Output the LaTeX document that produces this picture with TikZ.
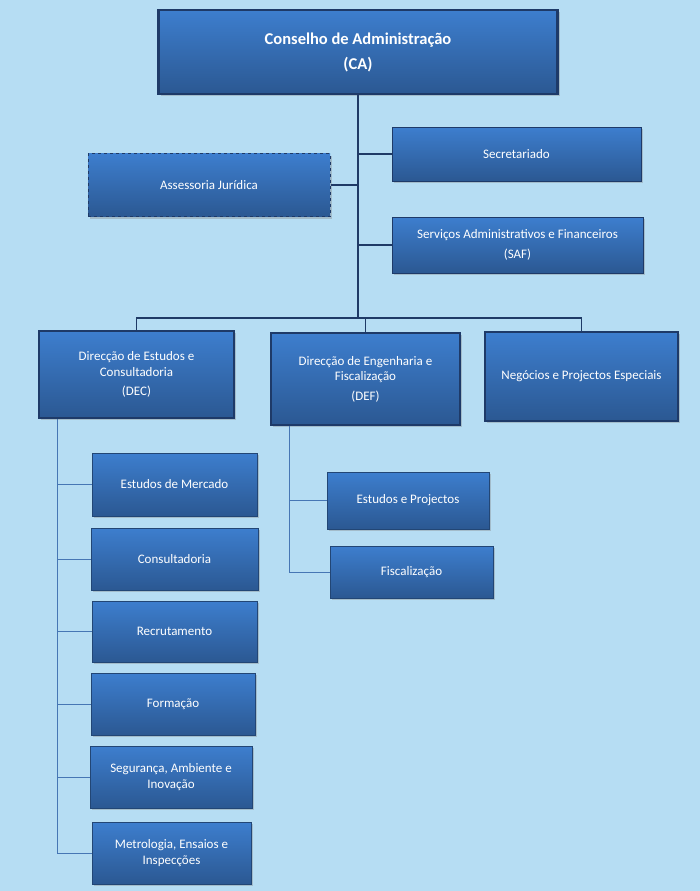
\documentclass[tikz,border=0pt]{standalone}
\usepackage{fontspec}
\setmainfont{Carlito}
\usetikzlibrary{shadows}
\definecolor{sky}{HTML}{B6DDF3}
\definecolor{boxtop}{HTML}{3D7ECE}
\definecolor{boxbot}{HTML}{2B5892}
\definecolor{boxline}{HTML}{1E3A68}
\definecolor{trunk}{HTML}{1F3A66}
\definecolor{twig}{HTML}{4676B4}

\begin{document}
\begin{tikzpicture}[x=1pt, y=-1pt,
  unit/.style={rectangle, top color=boxtop, bottom color=boxbot, text=white,
               align=center, inner sep=2pt, font=\fontsize{13}{15.5}\selectfont,
               drop shadow={shadow xshift=2pt, shadow yshift=-2pt, opacity=.35}},
  head/.style={unit, draw=boxline, line width=2.4pt},
  staff/.style={unit, draw=boxline, line width=1pt},
  sub/.style={unit, draw=boxbot!80!black, line width=.4pt},
  trunkline/.style={trunk, line width=1.6pt},
  twigline/.style={twig, line width=1pt},
]

\fill[sky] (0,0) rectangle (700,891);

% top level
\node[head, minimum width=399pt, minimum height=84pt,
      font=\fontsize{16.5}{20}\selectfont\bfseries] (ca) at (358,52)
  {Conselho de Administração\\[5pt](CA)};
\coordinate (bus) at (358,318);

\node[staff, minimum width=249pt, minimum height=54pt] (sec) at (516.5,154) {Secretariado};
\node[staff, dashed, minimum width=242pt, minimum height=63pt] (jur) at (209,185) {Assessoria Jurídica};
\node[staff, minimum width=251pt, minimum height=56pt] (saf) at (517.5,245)
  {Serviços Administrativos e Financeiros\\[5pt](SAF)};

% directorates
\node[head, minimum width=195pt, minimum height=87pt] (dec) at (136.5,374.5)
  {Direcção de Estudos e\\Consultadoria\\[4pt](DEC)};
\node[head, minimum width=189pt, minimum height=92pt] (def) at (365.5,379)
  {Direcção de Engenharia e\\Fiscalização\\[4pt](DEF)};
\node[head, minimum width=193pt, minimum height=89pt] (neg) at (581.5,376.5)
  {Negócios e Projectos Especiais};

% DEC units
\node[sub, minimum width=165pt, minimum height=63pt] (mer) at (174.5,484.5) {Estudos de Mercado};
\node[sub, minimum width=167pt, minimum height=62pt] (con) at (174.5,559) {Consultadoria};
\node[sub, minimum width=165pt, minimum height=61pt] (rec) at (174.5,631.5) {Recrutamento};
\node[sub, minimum width=164pt, minimum height=62pt] (for) at (173,704) {Formação};
\node[sub, minimum width=162pt, minimum height=62pt] (seg) at (171,777) {Segurança, Ambiente e\\Inovação};
\node[sub, minimum width=159pt, minimum height=62pt] (met) at (171.5,853) {Metrologia, Ensaios e\\Inspecções};

% DEF units
\node[sub, minimum width=162pt, minimum height=57pt] (pro) at (408,500.5) {Estudos e Projectos};
\node[sub, minimum width=163pt, minimum height=52pt] (fis) at (411.5,572) {Fiscalização};

% connectors
\draw[trunkline] (ca) -- (bus);
\draw[trunkline] (sec.west) -- (sec.west -| bus);
\draw[trunkline] (jur.east) -- (jur.east -| bus);
\draw[trunkline] (saf.west) -- (saf.west -| bus);
\draw[trunkline] (dec.north) |- (bus);
\draw[trunkline] (neg.north) |- (bus);
\draw[trunkline] (def.north) -- (def.north |- bus);

\foreach \u in {mer,con,rec,for,seg,met}
  \draw[twigline] ([xshift=20pt]dec.south west) |- (\u.west);
\foreach \u in {pro,fis}
  \draw[twigline] ([xshift=20pt]def.south west) |- (\u.west);

\end{tikzpicture}
\end{document}
